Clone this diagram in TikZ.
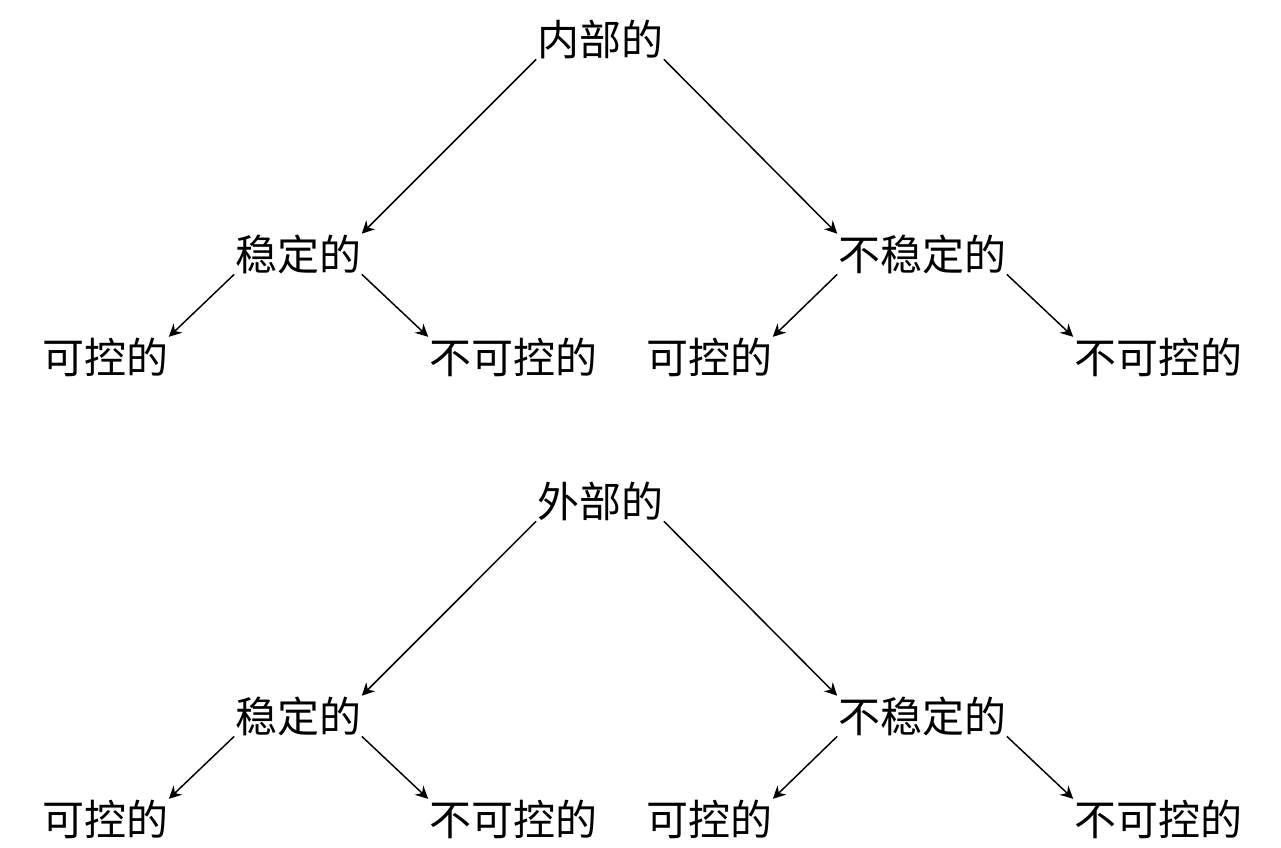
\documentclass[tikz,border=0pt]{standalone}
\usepackage{fontspec}
\newfontfamily\cjk{Noto Sans CJK SC}
\usetikzlibrary{arrows.meta}

\begin{document}
\begin{tikzpicture}[x=0.2381pt, y=-0.2381pt,
    lbl/.style={font=\cjk, inner sep=0pt},
    arr/.style={-{Stealth[length=3pt, width=3pt, inset=1pt]}, line width=0.35pt}]
    \useasboundingbox (0,0) rectangle (1281,847);

    % upper tree
    \node[lbl] (in)    at (600,39)  {内部的};
    \node[lbl] (ins)   at (298,254) {稳定的};
    \node[lbl] (inu)   at (922,254) {不稳定的};
    \node[lbl] (insc)  at (105,357) {可控的};
    \node[lbl] (insn)  at (513,357) {不可控的};
    \node[lbl] (inuc)  at (709,357) {可控的};
    \node[lbl] (inun)  at (1158,357) {不可控的};

    % lower tree
    \node[lbl] (out)   at (600,501) {外部的};
    \node[lbl] (outs)  at (298,716) {稳定的};
    \node[lbl] (outu)  at (922,716) {不稳定的};
    \node[lbl] (outsc) at (105,819) {可控的};
    \node[lbl] (outsn) at (513,819) {不可控的};
    \node[lbl] (outuc) at (709,819) {可控的};
    \node[lbl] (outun) at (1158,819) {不可控的};

    \draw[arr] (in.south west) -- (ins.north east);
    \draw[arr] (in.south east) -- (inu.north west);
    \draw[arr] (ins.south west) -- (insc.north east);
    \draw[arr] (ins.south east) -- (insn.north west);
    \draw[arr] (inu.south west) -- (inuc.north east);
    \draw[arr] (inu.south east) -- (inun.north west);

    \draw[arr] (out.south west) -- (outs.north east);
    \draw[arr] (out.south east) -- (outu.north west);
    \draw[arr] (outs.south west) -- (outsc.north east);
    \draw[arr] (outs.south east) -- (outsn.north west);
    \draw[arr] (outu.south west) -- (outuc.north east);
    \draw[arr] (outu.south east) -- (outun.north west);
\end{tikzpicture}
\end{document}
